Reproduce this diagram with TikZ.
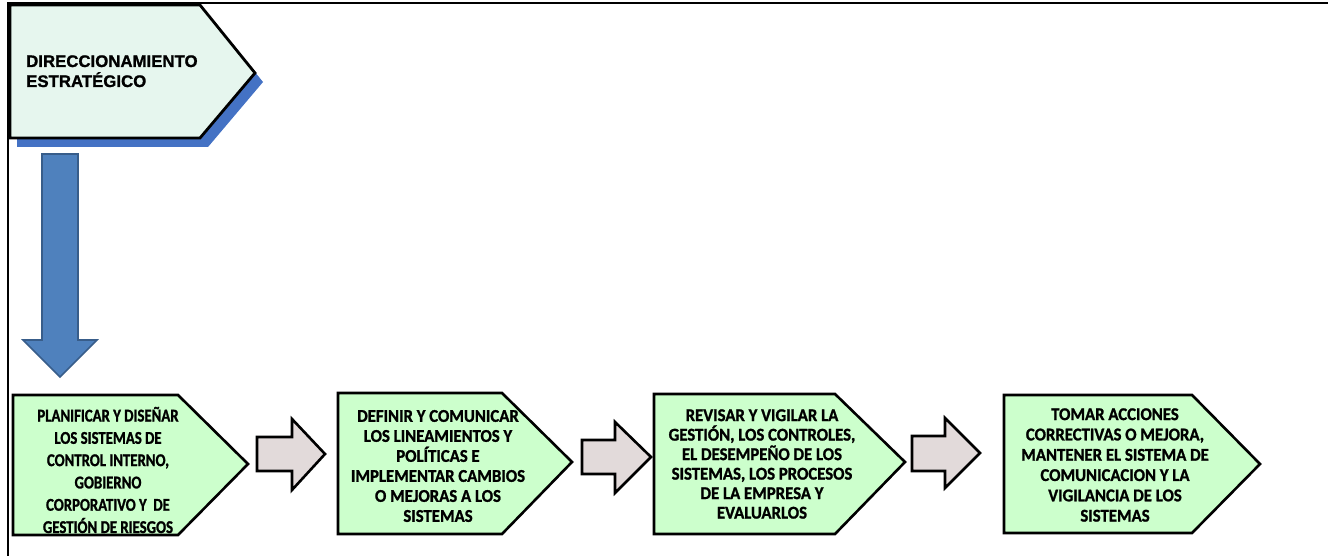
\documentclass[tikz,border=0pt]{standalone}
\usepackage{fontspec}
\setmainfont{Liberation Sans}
\newfontfamily\topfont[FakeBold=1.2]{Liberation Sans Bold}
\newfontfamily\boxfontA[FakeStretch=0.82,FakeBold=1.2]{Carlito Bold}
\newfontfamily\boxfontB[FakeStretch=0.93,FakeBold=1.2]{Carlito Bold}
\definecolor{boxgreen}{HTML}{CCFFCC}
\definecolor{arrgray}{HTML}{E2DADA}
\definecolor{blueA}{HTML}{4F81BD}
\definecolor{blueB}{HTML}{385D8A}
\definecolor{shadowblue}{HTML}{4472C4}
\definecolor{mint}{HTML}{E6F6EE}
\tikzset{
  stepshape/.style={draw=black, line width=2.6pt, fill=boxgreen, line join=miter},
  grayarrow/.style={draw=black, line width=2.6pt, fill=arrgray, line join=miter},
  steptext/.style={align=center, inner sep=0pt},
}
\begin{document}
\begin{tikzpicture}[x=1pt,y=-1pt]
\useasboundingbox (0,0) rectangle (1328,556);
% frame
\draw[line width=1.6pt] (8,556) -- (8,3) -- (1328,3);
% top pentagon with shadow
\fill[shadowblue] (17,14) -- (208,14) -- (263,82) -- (208,147) -- (17,147) -- cycle;
\draw[line width=2.8pt, fill=mint, line join=miter] (10,5) -- (200,5) -- (255,73) -- (200,138) -- (10,138) -- cycle;
\node[anchor=base west, align=left, font=\topfont\fontsize{16.8}{20}\selectfont, inner sep=0pt] (dir) at (26,87) {DIRECCIONAMIENTO\\ESTRATÉGICO};
% blue down arrow
\draw[blueB, line width=1.6pt, fill=blueA, line join=miter] (42,154) -- (78,154) -- (78,340) -- (97,340) -- (60,377) -- (23,340) -- (42,340) -- cycle;
% step boxes
\draw[stepshape] (13,395) -- (178,395) -- (248,464) -- (178,535) -- (13,535) -- cycle;
\draw[stepshape] (338,393) -- (502,393) -- (572,462) -- (502,534) -- (338,534) -- cycle;
\draw[stepshape] (654,394) -- (835,394) -- (905,462) -- (835,534) -- (654,534) -- cycle;
\draw[stepshape] (1004,395) -- (1192,395) -- (1260,464) -- (1192,533) -- (1004,533) -- cycle;
% gray arrows
\draw[grayarrow] (257,437) -- (292,437) -- (292,419) -- (325,454) -- (292,490) -- (292,471) -- (257,471) -- cycle;
\draw[grayarrow] (582,440) -- (615,440) -- (615,422) -- (651,457) -- (615,493) -- (615,474) -- (582,474) -- cycle;
\draw[grayarrow] (912,436) -- (945,436) -- (945,418) -- (980,453) -- (945,488) -- (945,471) -- (912,471) -- cycle;
% texts
\node[steptext, font=\boxfontA\fontsize{18}{22.3}\selectfont] (s1) at (108,470) {PLANIFICAR Y DISEÑAR\\LOS SISTEMAS DE\\CONTROL INTERNO,\\GOBIERNO\\CORPORATIVO Y\ \ DE\\GESTIÓN DE RIESGOS};
\node[steptext, font=\boxfontB\fontsize{18}{20}\selectfont] (s2) at (438,466) {DEFINIR Y COMUNICAR\\LOS LINEAMIENTOS Y\\POLÍTICAS E\\IMPLEMENTAR CAMBIOS\\O MEJORAS A LOS\\SISTEMAS};
\node[steptext, font=\boxfontB\fontsize{18}{19.5}\selectfont] (s3) at (762,464) {REVISAR Y VIGILAR LA\\GESTIÓN, LOS CONTROLES,\\EL DESEMPEÑO DE LOS\\SISTEMAS, LOS PROCESOS\\DE LA EMPRESA Y\\EVALUARLOS};
\node[steptext, font=\boxfontB\fontsize{18}{20.3}\selectfont] (s4) at (1115,465) {TOMAR ACCIONES\\CORRECTIVAS O MEJORA,\\MANTENER EL SISTEMA DE\\COMUNICACION Y LA\\VIGILANCIA DE LOS\\SISTEMAS};
\end{tikzpicture}
\end{document}
